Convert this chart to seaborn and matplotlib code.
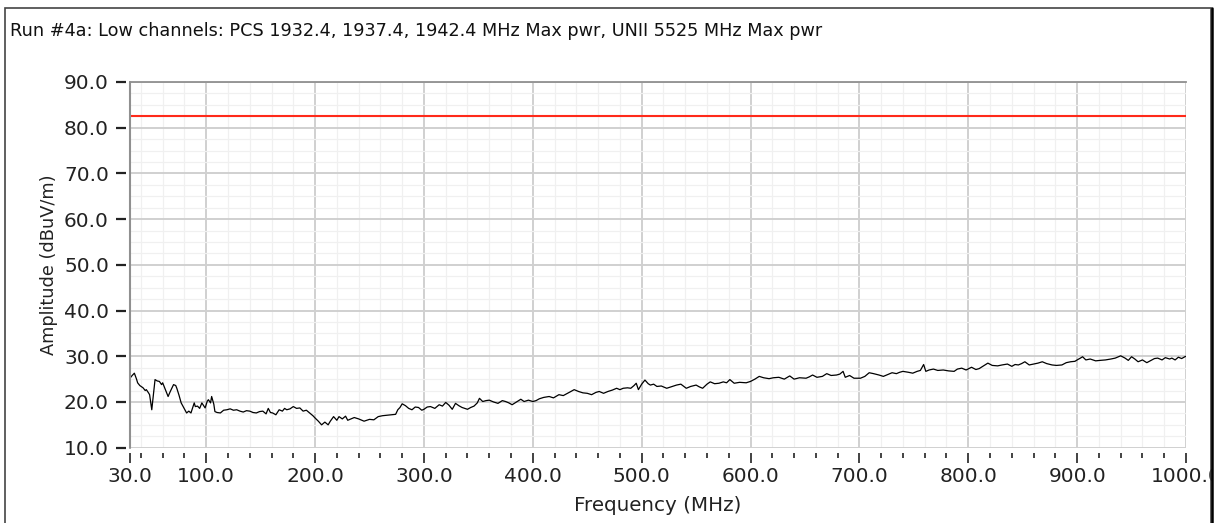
import matplotlib
matplotlib.use("Agg")
import matplotlib.pyplot as plt
from matplotlib.ticker import MultipleLocator, FixedLocator, FixedFormatter
from matplotlib.patches import Rectangle
import seaborn as sns
import pandas as pd

# ---- data ----
title_text = "Run #4a: Low channels: PCS 1932.4, 1937.4, 1942.4 MHz Max pwr, UNII 5525 MHz Max pwr"
x_label = "Frequency (MHz)"
y_label = "Amplitude (dBuV/m)"

x_ticks = [30, 100, 200, 300, 400, 500, 600, 700, 800, 900, 1000]
x_tick_labels = ["30.0", "100.0", "200.0", "300.0", "400.0", "500.0",
                 "600.0", "700.0", "800.0", "900.0", "1000.0"]
y_ticks = [10, 20, 30, 40, 50, 60, 70, 80, 90]
y_tick_labels = ["10.0", "20.0", "30.0", "40.0", "50.0", "60.0", "70.0", "80.0", "90.0"]

limit_freq = [30, 1000]
limit_amp = [82.5, 82.5]

trace_freq = [
    30, 32, 34, 36, 37, 39, 42, 44, 45, 47, 48, 50, 51, 53, 55, 57, 59, 60, 62, 65,
    67, 70, 72, 73, 75, 77, 80, 82, 84, 86, 89, 90, 92, 94, 96, 99, 101, 102, 104, 105,
    107, 108, 110, 113, 116, 119, 122, 125, 128, 131, 134, 137, 140, 143, 146, 149, 152, 155, 157, 159,
    161, 164, 167, 170, 172, 174, 177, 180, 183, 186, 189, 192, 195, 198, 200, 203, 206, 209, 212, 214,
    217, 220, 222, 225, 228, 230, 233, 236, 240, 245, 250, 254, 258, 262, 266, 270, 274, 276, 278, 280,
    283, 286, 289, 292, 295, 298, 300, 303, 306, 310, 314, 317, 320, 323, 326, 329, 332, 335, 340, 343,
    346, 349, 351, 354, 357, 360, 364, 368, 372, 375, 378, 381, 385, 389, 392, 396, 400, 403, 406, 410,
    415, 419, 424, 428, 432, 435, 438, 442, 446, 450, 454, 458, 461, 465, 469, 473, 477, 480, 483, 487,
    490, 493, 495, 497, 500, 503, 506, 508, 511, 514, 518, 523, 527, 532, 536, 541, 545, 550, 553, 556,
    560, 563, 567, 571, 575, 578, 581, 585, 590, 596, 600, 604, 608, 612, 617, 621, 626, 631, 636, 640,
    645, 651, 654, 657, 661, 666, 670, 674, 679, 682, 685, 687, 691, 695, 701, 705, 709, 713, 718, 722,
    726, 730, 734, 737, 740, 745, 749, 753, 756, 759, 761, 764, 768, 772, 777, 782, 787, 790, 794, 798,
    803, 807, 810, 814, 818, 822, 827, 831, 836, 840, 843, 846, 849, 852, 856, 860, 864, 868, 872, 877,
    881, 886, 890, 894, 898, 900, 903, 905, 908, 912, 917, 921, 926, 931, 935, 940, 944, 947, 950, 953,
    956, 960, 964, 968, 971, 974, 978, 981, 985, 987, 990, 993, 996, 999, 1000,
]
trace_amp = [
    25.2, 25.8, 26.3, 25.0, 24.2, 23.6, 23.1, 22.5, 22.7, 22.0, 21.6, 18.3, 20.5, 24.9, 24.6, 24.5, 23.8, 24.2, 23.0, 21.2,
    22.3, 23.8, 23.6, 23.0, 21.5, 19.8, 18.5, 17.6, 18.0, 17.6, 19.8, 19.0, 19.1, 18.6, 19.8, 18.7, 20.2, 20.5, 19.8, 21.2,
    19.5, 17.9, 17.7, 17.6, 18.2, 18.3, 18.5, 18.2, 18.3, 18.0, 17.8, 18.1, 18.0, 17.7, 17.6, 17.9, 18.0, 17.4, 18.6, 17.7,
    17.6, 17.2, 18.3, 18.0, 18.6, 18.3, 18.5, 19.0, 18.6, 18.7, 18.0, 18.2, 17.6, 17.0, 16.5, 15.8, 15.0, 15.6, 15.0, 15.8,
    16.8, 16.0, 16.8, 16.3, 16.9, 16.0, 16.3, 16.6, 16.3, 15.8, 16.2, 16.1, 16.8, 17.0, 17.1, 17.2, 17.3, 18.3, 18.8, 19.6,
    19.2, 18.6, 18.3, 18.9, 18.8, 18.2, 18.4, 18.9, 19.0, 18.6, 19.4, 19.1, 19.9, 19.3, 18.4, 19.7, 19.2, 18.8, 18.4, 18.8,
    19.1, 19.8, 20.8, 20.1, 20.3, 20.4, 20.0, 19.7, 20.3, 20.1, 19.8, 19.4, 20.0, 20.6, 20.1, 20.4, 20.1, 20.3, 20.7, 21.0,
    21.2, 20.9, 21.6, 21.4, 21.9, 22.3, 22.7, 22.3, 22.0, 21.9, 21.6, 22.1, 22.3, 21.9, 22.3, 22.6, 23.0, 22.7, 23.0, 23.1,
    23.0, 23.6, 24.1, 22.7, 23.9, 24.8, 24.0, 23.7, 23.9, 23.4, 23.5, 23.0, 23.3, 23.7, 23.9, 23.0, 23.4, 23.7, 23.3, 23.0,
    23.9, 24.4, 24.0, 24.1, 24.4, 24.2, 24.9, 24.1, 24.3, 24.2, 24.5, 25.0, 25.6, 25.3, 25.1, 25.3, 25.4, 25.0, 25.7, 25.0,
    25.3, 25.2, 25.5, 25.9, 25.4, 25.6, 26.2, 25.8, 25.9, 26.1, 26.7, 25.4, 25.8, 25.2, 25.2, 25.6, 26.4, 26.2, 25.9, 25.6,
    26.0, 26.4, 26.2, 26.5, 26.7, 26.5, 26.3, 26.7, 26.9, 28.2, 26.7, 27.0, 27.2, 26.9, 27.0, 26.8, 26.7, 27.2, 27.4, 27.0,
    27.6, 27.1, 27.3, 27.9, 28.5, 28.0, 27.9, 28.1, 28.3, 27.8, 28.2, 28.1, 28.4, 28.8, 28.1, 28.3, 28.5, 28.8, 28.4, 28.1,
    28.0, 28.1, 28.6, 28.8, 28.9, 29.2, 29.6, 29.9, 29.2, 29.4, 29.0, 29.1, 29.2, 29.4, 29.6, 30.1, 29.6, 29.1, 29.9, 29.4,
    28.8, 29.2, 28.6, 29.1, 29.5, 29.6, 29.2, 29.7, 29.4, 29.6, 29.2, 29.8, 29.5, 29.9, 30.0,
]

trace_df = pd.DataFrame({"freq": trace_freq, "amp": trace_amp})
limit_df = pd.DataFrame({"freq": limit_freq, "amp": limit_amp})

# ---- style ----
sns.set_style("white")
plt.rcParams["font.family"] = ["DejaVu Sans"]

W, H = 1215, 523
fig = plt.figure(figsize=(W / 100, H / 100), dpi=100)
ax = fig.add_axes([130 / W, 1 - 447.7 / H, (1186 - 130) / W, (447.7 - 82) / H])

sns.lineplot(data=limit_df, x="freq", y="amp", ax=ax, color="#ff2a1a", linewidth=1.5, zorder=4)
sns.lineplot(data=trace_df, x="freq", y="amp", ax=ax, color="black", linewidth=0.9, zorder=5)

ax.set_xlim(30, 1000)
ax.set_ylim(10, 90)

ax.xaxis.set_major_locator(FixedLocator(x_ticks))
ax.xaxis.set_major_formatter(FixedFormatter(x_tick_labels))
ax.xaxis.set_minor_locator(FixedLocator([v for v in range(40, 1000, 20) if v % 100 != 0]))
ax.yaxis.set_major_locator(FixedLocator(y_ticks))
ax.yaxis.set_major_formatter(FixedFormatter(y_tick_labels))
ax.yaxis.set_minor_locator(MultipleLocator(2.5))

ax.grid(which="major", color="#d0d0d0", linewidth=1.4, zorder=1)
ax.grid(which="minor", color="#f0f0f0", linewidth=0.9, zorder=0)
ax.set_axisbelow(True)

for s in ["bottom", "right"]:
    ax.spines[s].set_visible(False)
ax.spines["top"].set_color("#909090")
ax.spines["top"].set_linewidth(1.3)
ax.spines["left"].set_visible(False)
ax.spines["left"].set_position(("outward", 3))
ax.spines["bottom"].set_position(("outward", 4))
# visible left frame line of the plot area
ax.plot([0, 0], [0, 1], transform=ax.transAxes, color="#909090", linewidth=1.5,
        clip_on=False, zorder=6)

ax.tick_params(axis="x", which="both", bottom=True, top=False)
ax.tick_params(axis="y", which="both", left=True, right=False)
ax.tick_params(axis="x", which="major", direction="out", length=7.2, width=1.2,
               color="#222222", labelsize=14.5, labelcolor="#222222", pad=2.5)
ax.tick_params(axis="x", which="minor", direction="out", length=3.6, width=1.2,
               color="#222222")
ax.tick_params(axis="y", which="major", direction="out", length=7.2, width=1.6,
               color="#222222", labelsize=14.5, labelcolor="#222222", pad=5)
ax.tick_params(axis="y", which="minor", length=0)

ax.set_xlabel(x_label, fontsize=14.3, color="#222222", labelpad=7.5)
ax.set_ylabel(y_label, fontsize=12.8, color="#222222", labelpad=4)
ax.set_title("")

fig.text(10 / W, 1 - 31 / H, title_text, fontsize=12.7, color="#111111",
         ha="left", va="center")

# outer frame of the panel
fig.patches.append(Rectangle((5 / W, -0.1), (1211 - 5) / W, 1.1 - 8 / H,
                             transform=fig.transFigure, fill=False,
                             edgecolor="#444444", linewidth=1.2))
fig.patches.append(Rectangle((1212.5 / W, 0), 3 / W, 1, transform=fig.transFigure,
                             facecolor="white", edgecolor="none", zorder=10))
fig.lines.append(plt.Line2D([1211.5 / W, 1211.5 / W], [0, 1 - 8 / H],
                            transform=fig.transFigure, color="black", linewidth=1.8,
                            zorder=11))

fig.savefig("out.png", dpi=100)
